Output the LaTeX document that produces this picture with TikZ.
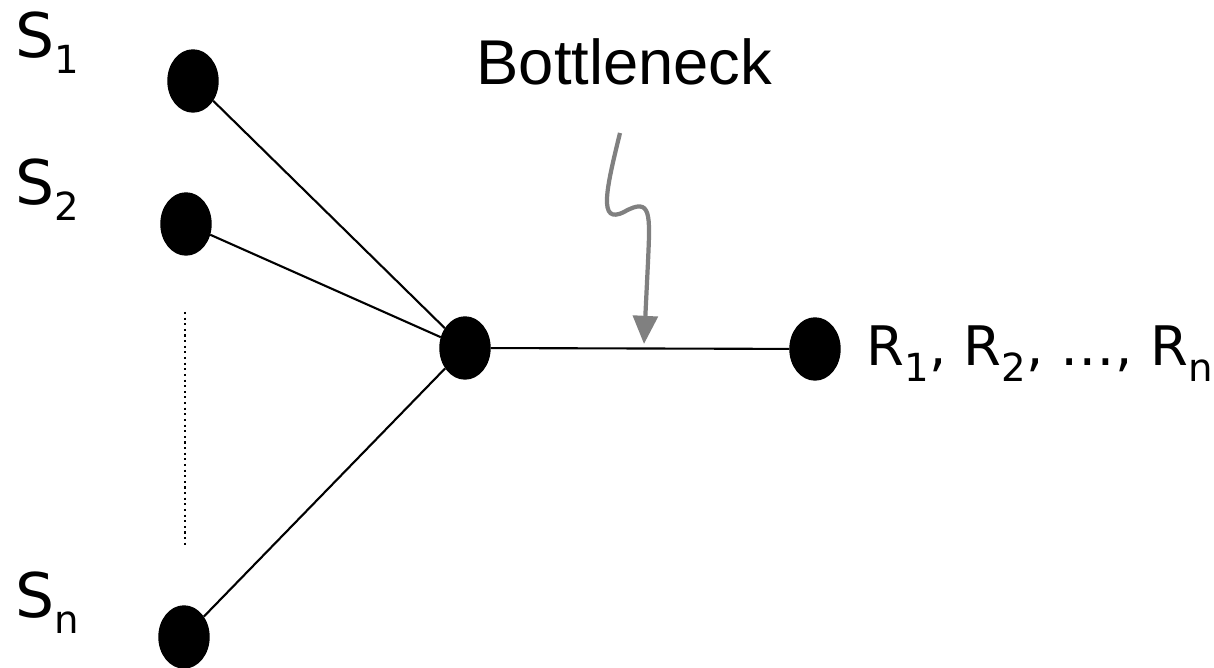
\documentclass[tikz,border=0pt]{standalone}
\usepackage{fontspec}
\usepackage{tikz}
\usetikzlibrary{shapes.geometric, arrows.meta, positioning}
\setmainfont{DejaVu Sans}
\newfontfamily\arialfont{Liberation Sans}
\definecolor{pointgray}{HTML}{808080}
\newcommand{\lowidx}[1]{\raisebox{-4.5pt}{\fontsize{11}{11}\selectfont #1}}

\begin{document}
\begin{tikzpicture}[
    x=0.01cm, y=-0.01cm,
    host/.style={ellipse, fill=black, draw=black, minimum width=0.5cm, minimum height=0.62cm, inner sep=0pt},
    link/.style={draw=black, line width=0.6pt},
    hostlabel/.style={anchor=base west, inner sep=0pt, font=\fontsize{17.5}{20}\selectfont},
    pointer/.style={-{Triangle[length=8pt, width=7pt]}, draw=pointgray, line width=1.2pt}
]
\useasboundingbox (0,0) rectangle (1214,668);
% hosts
\node[host] (s1) at (193,81) {};
\node[host] (s2) at (186,224) {};
\node[host] (sn) at (184,637) {};
\node[host] (hub) at (465,348) {};
\node[host] (recv) at (815,349) {};
% labels
\node[hostlabel] (s1lab) at (15,58) {S\lowidx{1}};
\node[hostlabel] (s2lab) at (15,205) {S\lowidx{2}};
\node[hostlabel] (snlab) at (15,618) {S\lowidx{n}};
\node[hostlabel, font=\fontsize{15.5}{18}\selectfont] (rlab) at (866,366) {R\lowidx{1}, R\lowidx{2}, \dots, R\lowidx{n}};
\node[anchor=base west, inner sep=0pt, font=\arialfont\fontsize{18}{20}\selectfont] (neckname) at (476,85) {Bottleneck};
% links
\draw[link] (s1) -- (hub);
\draw[link] (s2) -- (hub);
\draw[link] (sn) -- (hub);
\draw[link] (hub) -- (recv);
\coordinate (dottop) at (185,312);
\coordinate (dotbot) at (185,548);
\draw[line width=0.4pt, dash pattern=on 0.6pt off 1pt] (dottop) -- (dotbot);
% pointer to the bottleneck link
\coordinate (tail) at (620,133);
\coordinate (neck) at (644,344);
\draw[pointer] (tail) .. controls (606,190) and (598,225) .. (624,212)
    .. controls (652,196) and (650,215) .. (648,262) -- (neck);
\end{tikzpicture}
\end{document}
